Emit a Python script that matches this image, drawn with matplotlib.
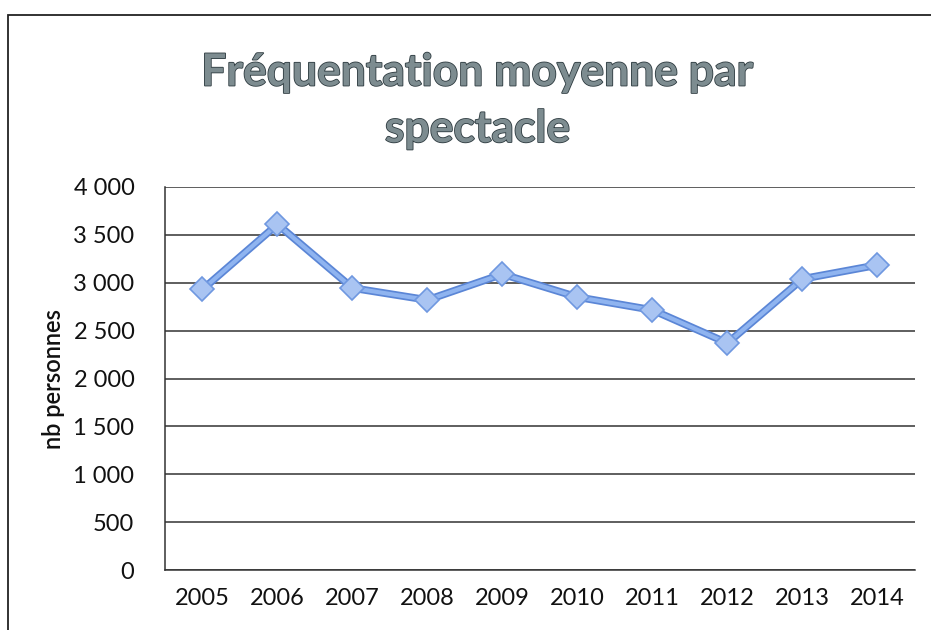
import matplotlib
matplotlib.use("Agg")
from matplotlib import pyplot as plt
from matplotlib import patheffects as pe
from matplotlib.patches import Rectangle
from matplotlib.ticker import FuncFormatter

years = ["2005", "2006", "2007", "2008", "2009", "2010", "2011", "2012", "2013", "2014"]
visitors = [2930, 3610, 2945, 2820, 3090, 2850, 2715, 2370, 3040, 3185]
y_ticks = [0, 500, 1000, 1500, 2000, 2500, 3000, 3500, 4000]

plt.rcParams["font.family"] = ["Lato", "DejaVu Sans"]

fig = plt.figure(figsize=(9.31, 6.30), dpi=100)
ax = fig.add_axes([0.1772, 0.0952, 0.8056, 0.608])

# scanned chart frame
fig.patches.append(Rectangle((8 / 931, -0.1), 1.2, 1 - 15 / 630 + 0.1,
                             transform=fig.transFigure, fill=False,
                             edgecolor="#222222", linewidth=1.3))

x = list(range(len(years)))
ax.plot(x, visitors, color="#5b86d6", linewidth=5.5, solid_joinstyle="miter", zorder=3)
ax.plot(x, visitors, color="#8fb4f0", linewidth=3, marker="D", markersize=12,
        markerfacecolor="#a9c4f2", markeredgecolor="#6f98e0", markeredgewidth=1.2, zorder=4)

ax.set_xlim(-0.5, len(years) - 0.5)
ax.set_ylim(0, 4000)
ax.set_yticks(y_ticks)
ax.yaxis.set_major_formatter(FuncFormatter(lambda v, p: f"{int(v):,}".replace(",", " ")))
ax.set_xticks(x)
ax.set_xticklabels(years)
ax.tick_params(axis="both", length=0, labelsize=17, colors="#111111")
ax.tick_params(axis="x", pad=13)
ax.tick_params(axis="y", pad=22)

ax.grid(axis="y", color="#333333", linewidth=1.1)
ax.set_axisbelow(True)
for side in ["top", "right"]:
    ax.spines[side].set_visible(False)
for side in ["left", "bottom"]:
    ax.spines[side].set_color("#333333")
    ax.spines[side].set_linewidth(1.1)

ax.set_ylabel("nb personnes", fontsize=17, labelpad=6, color="#111111", fontweight="semibold")

title = fig.text(0.513, 0.840, "Fréquentation moyenne par\nspectacle", ha="center", va="center",
                 fontsize=32, fontweight="bold", color="#7d8c90", linespacing=1.5)
title.set_path_effects([pe.Stroke(linewidth=1.2, foreground="#2e3b40"), pe.Normal()])

fig.savefig("out.png", dpi=100)
